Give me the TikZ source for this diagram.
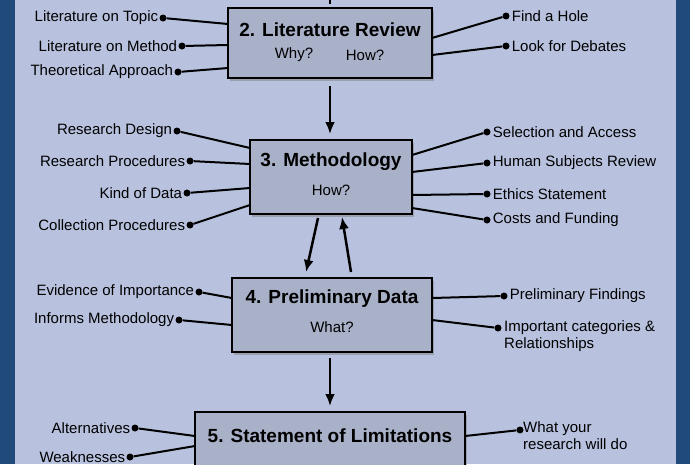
\documentclass[tikz,border=0pt]{standalone}
\usepackage{fontspec}
\setmainfont{Liberation Sans}
\definecolor{bgblue}{HTML}{B8C2DE}
\definecolor{frameblue}{HTML}{1F4A7A}
\definecolor{boxgray}{HTML}{A9B1C9}
\tikzset{
  stagebox/.style={draw=black, line width=1.5pt, fill=boxgray, drop shadow={opacity=0.5, shadow xshift=2pt, shadow yshift=-3pt}},
  dotlbl/.style={circle, fill=black, inner sep=0pt, minimum size=7pt},
  spoke/.style={line width=2pt},
  flow/.style={-{Latex[length=12pt,width=10pt]}, line width=2.5pt}
}
\usetikzlibrary{shadows,arrows.meta}
\begin{document}
\begin{tikzpicture}[x=1pt, y=-1pt, font=\fontsize{15}{17}\selectfont]
				\useasboundingbox (0,0) rectangle (690,464);
				\fill[bgblue] (0,0) rectangle (690,464);
				\fill[frameblue] (0,0) rectangle (15,464);
				\fill[frameblue] (676,0) rectangle (690,464);

				% Stage boxes
				\draw[stagebox] (228,8) rectangle (432,78);
				\node[font=\fontsize{19}{22}\selectfont\bfseries] (litreview) at (330,30) {2. Literature Review};
				\node (why) at (294,55) {Why?};
				\node (how) at (365,55) {How?};

				\draw[stagebox] (250,140) rectangle (412,214);
				\node[font=\fontsize{19}{22}\selectfont\bfseries] (method) at (331,162) {3. Methodology};
				\node (methhow) at (331,190) {How?};

				\draw[stagebox] (232,278) rectangle (432,352);
				\node[font=\fontsize{19}{22}\selectfont\bfseries] (prelim) at (332,299) {4. Preliminary Data};
				\node (what) at (332,327) {What?};

				\draw[stagebox] (195,412) rectangle (465,475);
				\node[font=\fontsize{19}{22}\selectfont\bfseries] (limits) at (330,436) {5. Statement of Limitations};

				% Flow arrows
				\coordinate (top) at (330,0);
				\draw[line width=2.5pt] (top) -- (330,4);
				\coordinate (a2) at (330,86);
				\coordinate (a3) at (330,134);
				\draw[flow] (a2) -- (a3);
				\coordinate (d1) at (318,218);
				\coordinate (d2) at (306,272);
				\draw[flow] (d1) -- (d2);
				\coordinate (u1) at (351,272);
				\coordinate (u2) at (342,217);
				\draw[flow] (u1) -- (u2);
				\coordinate (b4) at (330,358);
				\coordinate (b5) at (330,406);
				\draw[flow] (b4) -- (b5);

				% Left spokes
				\foreach \n/\dx/\dy/\ex/\ey/\t in {
				    topic/163/18/228/24/Literature on Topic,
				    lmethod/182/46/228/45/Literature on Method,
				    theory/178/72/228/68/Theoretical Approach,
				    design/177/131/250/148/Research Design,
				    procs/190/161/250/164/Research Procedures,
				    kind/187/193/250/188/Kind of Data,
				    collect/190/225/250/205/Collection Procedures,
				    evidence/199/292/232/298/Evidence of Importance,
				    informs/179/320/232/325/Informs Methodology,
				    altern/135/428/195/436/Alternatives,
				    weak/130/457/195/446/Weaknesses}{
				  \node[dotlbl] (\n) at (\dx,\dy) {};
				  \node[anchor=east, inner sep=1pt] (\n-t) at (\n.west) {\t};
				  \draw[spoke] (\n) -- (\ex,\ey);
				}

				% Right spokes
				\foreach \n/\dx/\dy/\ex/\ey/\t in {
				    hole/506/16/432/38/Find a Hole,
				    debates/506/46/432/55/Look for Debates,
				    access/487/132/412/155/Selection and Access,
				    human/487/163/412/172/Human Subjects Review,
				    ethics/487/194/412/195/Ethics Statement,
				    costs/487/220/412/208/Costs and Funding,
				    findings/504/296/432/298/Preliminary Findings}{
				  \node[dotlbl] (\n) at (\dx,\dy) {};
				  \node[anchor=west, inner sep=2pt] (\n-t) at (\n.east) {\t};
				  \draw[spoke] (\n) -- (\ex,\ey);
				}

				\node[dotlbl] (categ) at (498,328) {};
				\node[anchor=west, align=left, inner sep=2pt] (categ-t) at (502,336) {Important categories \&\\Relationships};
				\draw[spoke] (categ) -- (432,320);

				\node[dotlbl] (does) at (520,430) {};
				\node[anchor=west, align=left, inner sep=2pt] (does-t) at (521,436) {What your\\research will do};
				\draw[spoke] (does) -- (465,436);
			\end{tikzpicture}
\end{document}
